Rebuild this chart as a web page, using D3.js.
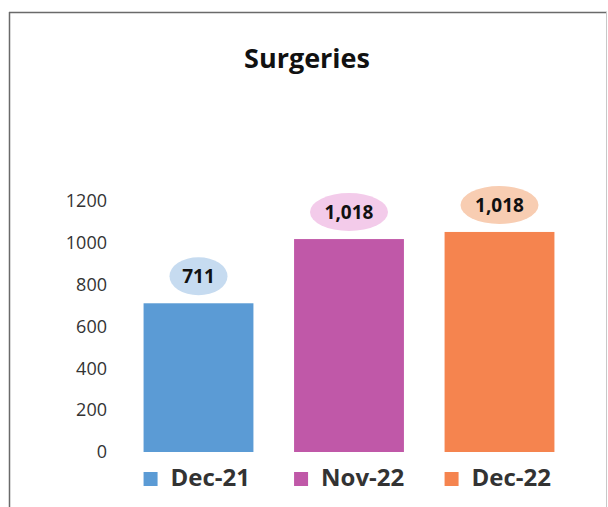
<!DOCTYPE html>
<html>
<head>
<meta charset="utf-8">
<script src="https://cdn.jsdelivr.net/npm/d3@7"></script>
<style>
    body { margin: 0; background: #fff; }
    text { font-family: "Open Sans", sans-serif; }
</style>
</head>
<body>
<svg class="graph"></svg>
<script>
// chart data
var months = ["Dec-21", "Nov-22", "Dec-22"]
var surgeries = [711, 1018, 1052]
var value_labels = ["711", "1,018", "1,018"]
var y_ticks = [0, 200, 400, 600, 800, 1000, 1200]

var bar_colors = ["#5b9bd5", "#c058a8", "#f5844f"]
var bubble_colors = ["#c6dbf0", "#f3cbea", "#f8cdb2"]

var width = 608,
    height = 507

var svg = d3.select(".graph")
    .attr("width", width)
    .attr("height", height)

// frame
svg.append("line")
    .attr("x1", 9.5).attr("x2", 9.5).attr("y1", 12).attr("y2", height)
    .attr("stroke", "#6a6a6a").attr("stroke-width", 1.5)
svg.append("line")
    .attr("x1", 9).attr("x2", 607).attr("y1", 12.5).attr("y2", 12.5)
    .attr("stroke", "#6a6a6a").attr("stroke-width", 1.5)
svg.append("line")
    .attr("x1", 606.5).attr("x2", 606.5).attr("y1", 12).attr("y2", height)
    .attr("stroke", "#c8c8c8").attr("stroke-width", 1)

svg.append("text")
    .attr("x", 307)
    .attr("y", 68)
    .attr("text-anchor", "middle")
    .style("font-size", "27px")
    .style("font-weight", "bold")
    .style("fill", "#111")
    .text("Surgeries")

var x = d3.scaleBand()
    .domain(months)
    .range([124, 574])
    .paddingInner(0.27)
    .paddingOuter(0.13)

var y = d3.scaleLinear()
    .domain([0, 1200])
    .range([452, 201])

// y labels (no axis line in the original)
var yAxis = d3.axisLeft(y)
    .tickValues(y_ticks)
    .tickFormat(d3.format("d"))
    .tickSize(0)
    .tickPadding(0)

var yg = svg.append("g")
    .attr("transform", "translate(107,0)")
    .call(yAxis)
yg.select(".domain").remove()
yg.selectAll("text")
    .style("font-family", "'Open Sans', sans-serif")
    .style("font-size", "18px")
    .style("fill", "#333")

var bars = svg.selectAll(".bar")
    .data(months)
    .enter().append("g")
    .attr("class", "bar")

bars.append("rect")
    .attr("x", (d) => x(d))
    .attr("width", x.bandwidth())
    .attr("y", (d, i) => y(surgeries[i]))
    .attr("height", (d, i) => y(0) - y(surgeries[i]))
    .attr("fill", (d, i) => bar_colors[i])

bars.append("ellipse")
    .attr("cx", (d) => x(d) + x.bandwidth() / 2)
    .attr("cy", (d, i) => y(surgeries[i]) - 27)
    .attr("rx", (d, i) => value_labels[i].length > 3 ? 39 : 29)
    .attr("ry", 19)
    .attr("fill", (d, i) => bubble_colors[i])

bars.append("text")
    .attr("x", (d) => x(d) + x.bandwidth() / 2)
    .attr("y", (d, i) => y(surgeries[i]) - 27)
    .attr("dy", "0.36em")
    .attr("text-anchor", "middle")
    .style("font-size", "19px")
    .style("font-weight", "bold")
    .style("fill", "#111")
    .text((d, i) => value_labels[i])

// legend under each bar
var legend = svg.selectAll(".legend")
    .data(months)
    .enter().append("g")
    .attr("class", "legend")
    .attr("transform", (d) => "translate(" + x(d) + ",0)")

legend.append("rect")
    .attr("x", 0)
    .attr("y", 472)
    .attr("width", 14)
    .attr("height", 14)
    .attr("fill", (d, i) => bar_colors[i])

legend.append("text")
    .attr("x", 27)
    .attr("y", 486)
    .style("font-size", "24px")
    .style("font-weight", "bold")
    .style("fill", "#333")
    .text((d) => d)
</script>
</body>
</html>
